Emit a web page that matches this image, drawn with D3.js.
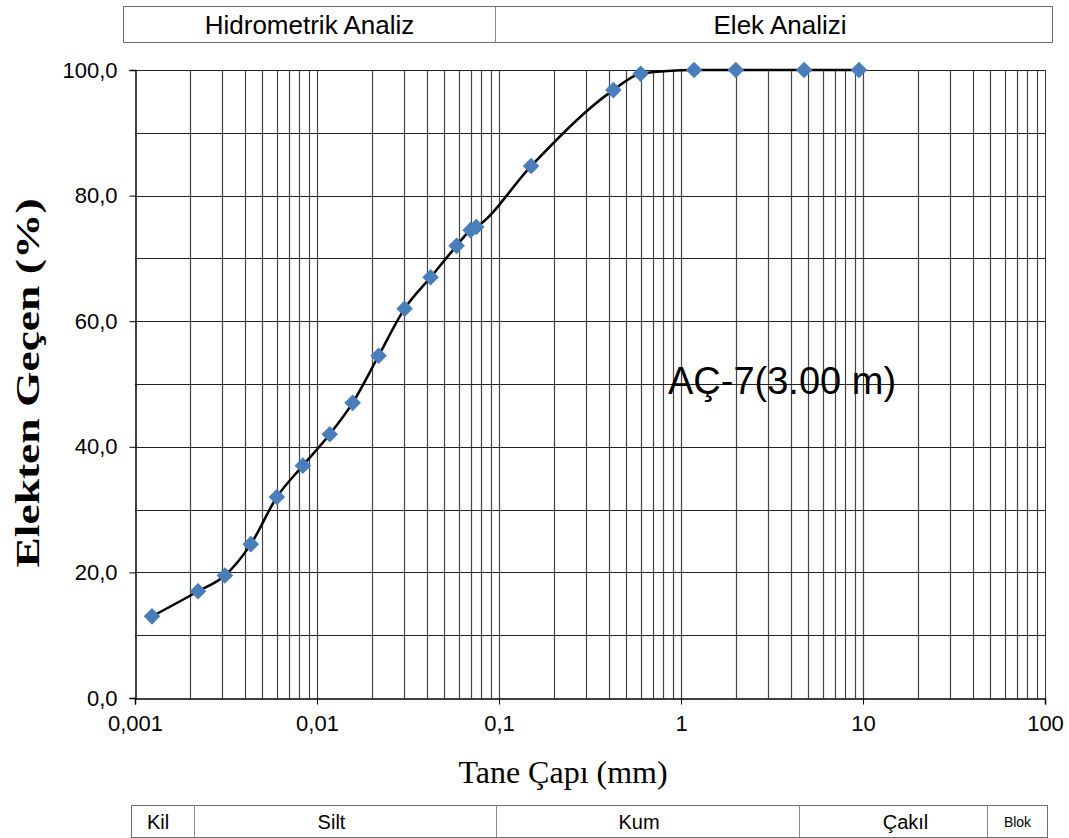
<!DOCTYPE html>
<html>
<head>
<meta charset="utf-8">
<script src="https://cdn.jsdelivr.net/npm/d3@7"></script>
<style>
  body { margin: 0; background: #fff; }
  text { font-family: "Liberation Sans", Arial, sans-serif; }
  .serif { font-family: "Liberation Serif", "Times New Roman", serif; }
</style>
</head>
<body>
<div id="chart"></div>
<script>
/*
Grain size distribution curve (hydrometer + sieve)
*/

// Grain diameter (mm) and percent passing
var diameters = [0.00124, 0.00222, 0.00312, 0.00433, 0.00602, 0.00836, 0.01175, 0.0157,
	0.0218, 0.0303, 0.0421, 0.0585, 0.0698, 0.075, 0.15, 0.425, 0.6, 1.18, 2.0, 4.75, 9.5];
var passing = [13.0, 17.0, 19.5, 24.5, 32.0, 37.0, 42.0, 47.0,
	54.5, 62.0, 67.0, 72.0, 74.5, 75.0, 84.7, 96.8, 99.4, 100, 100, 100, 100];

// Axis ticks
var xTicks = [0.001, 0.01, 0.1, 1, 10, 100];
var xTickLabels = ["0,001", "0,01", "0,1", "1", "10", "100"];
var yTicks = [0, 20, 40, 60, 80, 100];

// Header / footer bands (limits in mm)
var topBands = ["Hidrometrik Analiz", "Elek Analizi"];
var topLimits = [0.001, 0.095, 100];
var soilBands = ["Kil", "Silt", "Kum", "Çakıl", "Blok"];
var soilLimits = [0.00078, 0.0021, 0.096, 4.45, 48, 100];

var sampleLabel = "AÇ-7(3.00 m)";

/*
Sizes
*/
var width = 1069, height = 838;
var plot = { left: 135, right: 1045, top: 70, bottom: 698 };

var svg = d3.select("#chart").append("svg")
	.attr("width", width)
	.attr("height", height);

// Scales
var xScale = d3.scaleLog()
	.domain([0.001, 100])
	.range([plot.left, plot.right]);

var yScale = d3.scaleLinear()
	.domain([0, 100])
	.range([plot.bottom, plot.top]);

/*
Gridlines
*/
var grid = svg.append("g").attr("class", "grid");

// vertical: 1..9 in every decade
var vLines = [];
for (var e = -3; e < 2; e++) {
	for (var m = 2; m <= 9; m++) vLines.push(m * Math.pow(10, e));
}
vLines = vLines.concat([0.01, 0.1, 1, 10]);

grid.selectAll("line.v")
	.data(vLines)
	.enter().append("line")
	.attr("class", "v")
	.attr("x1", function(d) { return Math.round(xScale(d)) + 0.5; })
	.attr("x2", function(d) { return Math.round(xScale(d)) + 0.5; })
	.attr("y1", plot.top)
	.attr("y2", plot.bottom)
	.attr("stroke", "#444")
	.attr("stroke-width", 1.2);

// horizontal: every 10
grid.selectAll("line.h")
	.data(d3.range(10, 101, 10))
	.enter().append("line")
	.attr("class", "h")
	.attr("x1", plot.left)
	.attr("x2", plot.right)
	.attr("y1", function(d) { return Math.round(yScale(d)) + 0.5; })
	.attr("y2", function(d) { return Math.round(yScale(d)) + 0.5; })
	.attr("stroke", "#222")
	.attr("stroke-width", 1.2);

// right border
svg.append("line")
	.attr("x1", plot.right + 0.5).attr("x2", plot.right + 0.5)
	.attr("y1", plot.top).attr("y2", plot.bottom)
	.attr("stroke", "#333");

/*
Axes
*/
var xAxis = d3.axisBottom(xScale)
	.tickValues(xTicks)
	.tickSize(6)
	.tickPadding(10)
	.tickFormat(function(d, i) { return xTickLabels[i]; });

var gX = svg.append("g")
	.attr("transform", "translate(0," + (plot.bottom + 0.5) + ")")
	.call(xAxis);

var yAxis = d3.axisLeft(yScale)
	.tickValues(yTicks)
	.tickSize(6)
	.tickPadding(12)
	.tickFormat(function(d) { return d3.format(".1f")(d).replace(".", ","); });

var gY = svg.append("g")
	.attr("transform", "translate(" + (plot.left + 0.5) + ",0)")
	.call(yAxis);

[gX, gY].forEach(function(g) {
	g.select(".domain").attr("stroke", "#000").attr("stroke-width", 1.5);
	g.selectAll(".tick line").attr("stroke", "#000");
	g.selectAll(".tick text")
		.attr("fill", "#000")
		.style("font-family", "'Liberation Sans', Arial, sans-serif")
		.style("font-size", "22px");
});
gX.selectAll(".tick text").attr("dy", "0.75em");

// Axis titles
svg.append("text")
	.attr("class", "serif")
	.attr("x", 563)
	.attr("y", 783)
	.attr("text-anchor", "middle")
	.style("font-size", "32px")
	.text("Tane Çapı (mm)");

svg.append("text")
	.attr("class", "serif")
	.attr("transform", "translate(39," + 383 + ") rotate(-90) scale(1.38,1)")
	.attr("text-anchor", "middle")
	.style("font-size", "33px")
	.style("font-weight", "bold")
	.text("Elekten Geçen (%)");

/*
Curve and markers
*/
var points = diameters.map(function(d, i) { return { d: d, p: passing[i] }; });

var line = d3.line()
	.x(function(d) { return xScale(d.d); })
	.y(function(d) { return yScale(d.p); })
	.curve(d3.curveMonotoneX);

svg.append("path")
	.datum(points)
	.attr("d", line)
	.attr("fill", "none")
	.attr("stroke", "#000")
	.attr("stroke-width", 2.5);

var diamond = d3.symbol().type(d3.symbolDiamond2).size(175);

svg.append("g").selectAll("path")
	.data(points)
	.enter().append("path")
	.attr("d", diamond)
	.attr("transform", function(d) { return "translate(" + xScale(d.d) + "," + yScale(d.p) + ")"; })
	.attr("fill", "#4a7ebb");

// Sample label
svg.append("text")
	.attr("x", 668)
	.attr("y", 394)
	.style("font-size", "38px")
	.attr("fill", "#000")
	.text(sampleLabel);

/*
Bands above and below the plot
*/
function drawBands(labels, limits, x0, x1, y0, h, fontSizes, shifts) {
	var g = svg.append("g");
	var edges = limits.map(function(v, i) {
		if (i === 0) return x0;
		if (i === limits.length - 1) return x1;
		return Math.round(xScale(v)) + 0.5;
	});
	g.append("rect")
		.attr("x", x0).attr("y", y0)
		.attr("width", x1 - x0).attr("height", h)
		.attr("fill", "none").attr("stroke", "#6e6e6e").attr("stroke-width", 1);
	g.selectAll("line")
		.data(edges.slice(1, -1))
		.enter().append("line")
		.attr("x1", function(d) { return d; }).attr("x2", function(d) { return d; })
		.attr("y1", y0).attr("y2", y0 + h)
		.attr("stroke", "#8a8a8a");
	g.selectAll("text")
		.data(labels)
		.enter().append("text")
		.attr("x", function(d, i) { return (edges[i] + edges[i + 1]) / 2 + shifts[i]; })
		.attr("y", y0 + h / 2)
		.attr("dy", "0.36em")
		.attr("text-anchor", "middle")
		.style("font-size", function(d, i) { return fontSizes[i] + "px"; })
		.text(function(d) { return d; });
}

drawBands(topBands, topLimits, 123.5, 1052.5, 6.5, 36, [26, 26], [0, 6]);
drawBands(soilBands, soilLimits, 131.5, 1047.5, 805.5, 32, [20, 20, 20, 20, 14], [-5, -14, -9, 12, 0]);
</script>
</body>
</html>
